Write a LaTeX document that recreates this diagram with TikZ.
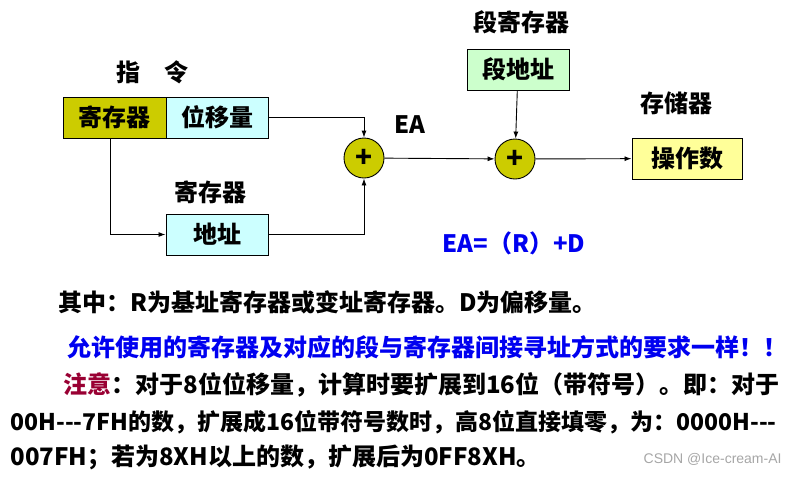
\documentclass[tikz,border=0pt]{standalone}
\usepackage{fontspec}
\setmainfont{Noto Sans CJK SC}
\newfontfamily\markfont{Liberation Sans}
\usetikzlibrary{arrows.meta,positioning}
\definecolor{regOlive}{RGB}{204,204,0}
\definecolor{softCyan}{RGB}{204,255,255}
\definecolor{softGreen}{RGB}{204,255,204}
\definecolor{softYellow}{RGB}{255,255,153}
\definecolor{deepBlue}{RGB}{0,0,240}
\definecolor{deepRed}{RGB}{153,0,51}

\begin{document}
\begin{tikzpicture}[x=1pt, y=-1pt, >={Latex[length=7pt,width=5pt]}, line width=0.9pt,
    every node/.style={font=\bfseries\fontsize{24}{28}\selectfont, inner sep=0pt},
    field/.style={draw, rectangle, minimum height=41pt, line width=1pt},
    adder/.style={draw, circle, fill=regOlive, minimum size=40pt, font=\bfseries\fontsize{28}{28}\selectfont}]
    \useasboundingbox (0,0) rectangle (798,483);

    % instruction fields
    \node (INSTR) at (152,72) {指\hspace{1em}令};
    \node[field, fill=regOlive, minimum width=103pt] (REG) at (114.5,117.5) {寄存器};
    \node[field, fill=softCyan, minimum width=102pt] (DISP) at (217,117.5) {位移量};

    \node (REGLBL) at (210,192) {寄存器};
    \node[field, fill=softCyan, minimum width=102pt] (ADDR) at (217,234.5) {地址};

    % adders
    \node[adder] (ADD1) at (364,158) {+};
    \node (EALBL) at (410,125) {EA};
    \node[adder] (ADD2) at (515,159) {+};

    \node (SEGLBL) at (521,22) {段寄存器};
    \node[field, fill=softGreen, minimum width=102pt] (SEG) at (518,69.5) {段地址};

    \node (MEMLBL) at (676,103) {存储器};
    \node[field, fill=softYellow, minimum width=110pt] (OPND) at (687,158.5) {操作数};

    \node[text=deepBlue] (FORMULA) at (514,243) {EA=（R）+D};

    \draw[->] (DISP.east) -| (ADD1.north);
    \draw[->] (ADDR.east) -| (ADD1.south);
    \draw[->] ([xshift=-4pt]REG.south) |- (ADDR.west);
    \draw[->] (ADD1) -- (ADD2);
    \draw[->] (SEG) -- (ADD2);
    \draw[->] (ADD2) -- (OPND);

    % notes
    \node[anchor=west] (NOTE1) at (58,302) {其中：R为基址寄存器或变址寄存器。D为偏移量。};
    \node[anchor=west, text=deepBlue] (NOTE2) at (67,347) {允许使用的寄存器及对应的段与寄存器间接寻址方式的要求一样！！};
    \node[anchor=west] (NOTE3) at (63,385) {\textcolor{deepRed}{注意}：对于8位位移量，计算时要扩展到16位（带符号）。即：对于};
    \node[anchor=west, font=\bfseries\fontsize{23}{28}\selectfont] (NOTE4) at (10,422) {00H-{}-{}-7FH的数，扩展成16位带符号数时，高8位直接填零，为：0000H-{}-{}-};
    \node[anchor=west] (NOTE5) at (10,457) {007FH；若为8XH以上的数，扩展后为0FF8XH。};
    \node[anchor=east, text=black!35, font=\markfont\fontsize{14}{16}\selectfont] (MARK) at (782,459) {CSDN @Ice-cream-AI};
\end{tikzpicture}
\end{document}
